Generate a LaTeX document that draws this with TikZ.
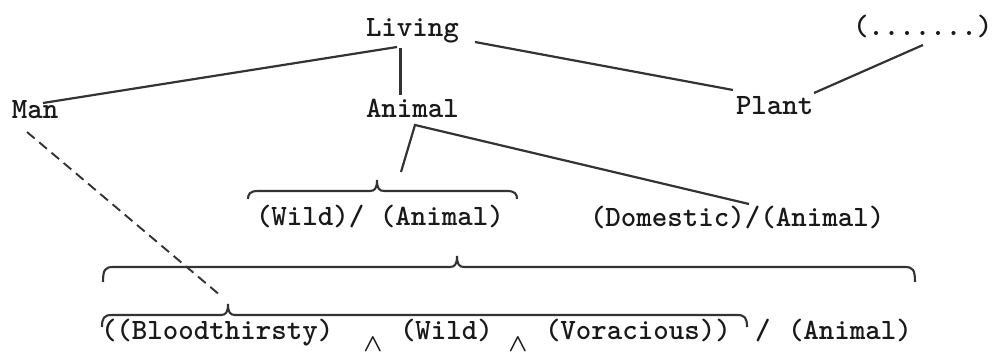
\documentclass[tikz,border=0pt]{standalone}
\usepackage{fontspec}
\newcommand{\ovbrace}[5]{% x1, x2, xtip, y, drop of the ends
  \draw[bracestyle] (#1,{#4+#5}) .. controls (#1,{#4+3}) and ({#1+2},#4) .. ({#1+10},#4)
    -- ({#3-7},#4) .. controls ({#3-2},#4) and (#3,{#4-3}) .. (#3,{#4-11})
    .. controls (#3,{#4-3}) and ({#3+2},#4) .. ({#3+7},#4)
    -- ({#2-10},#4) .. controls ({#2-2},#4) and (#2,{#4+3}) .. (#2,{#4+#5});}
\begin{document}
\begin{tikzpicture}[x=1pt,y=-1pt,
  lbl/.style={inner sep=0pt,outer sep=0pt,anchor=base west,text=black!90,
    font=\ttfamily\bfseries\fontsize{29.5}{32}\selectfont},
  wedgelbl/.style={inner sep=0pt,outer sep=0pt,anchor=center,text=black!90,
    font=\fontsize{24}{24}\selectfont\boldmath},
  conn/.style={line width=2.2pt,draw=black!80},
  dashconn/.style={conn,line width=1.9pt,dash pattern=on 10pt off 6pt},
  bracestyle/.style={line width=2.1pt,draw=black!80}]
\useasboundingbox (0,0) rectangle (996,355);

% nodes
\node[lbl] (living) at (366,37) {Living};
\node[lbl] (dots) at (853,36) {(.......)};
\node[lbl] (man) at (12,119) {Man};
\node[lbl] (animal) at (366,118) {Animal};
\node[lbl] (plant) at (736,115) {Plant};
\node[lbl] (wild) at (256,226) {(Wild)/ (Animal)};
\node[lbl] (domestic) at (590,227) {(Domestic)/(Animal)};
\node[lbl] (blood) at (101,339) {((Bloodthirsty)};
\node[wedgelbl] (and1) at (373,345) {$\wedge$};
\node[lbl] (wild2) at (400,339) {(Wild)};
\node[wedgelbl] (and2) at (518,345) {$\wedge$};
\node[lbl] (vorac) at (545,339) {(Voracious))};
\node[lbl] (slash) at (755,339) {/};
\node[lbl] (animal2) at (788,339) {(Animal)};

% braces
\ovbrace{248}{517}{377}{191}{8}
\ovbrace{103}{915}{457}{267}{15}
\ovbrace{102}{747}{228}{315}{12}

% connector end points
\coordinate (livL) at (397,47);
\coordinate (livB) at (400,48);
\coordinate (livR) at (475,42);
\coordinate (manT) at (43,103);
\coordinate (aniT) at (400,95);
\coordinate (aniB) at (415,125);
\coordinate (plL) at (733,90);
\coordinate (plR) at (814,93);
\coordinate (dotB) at (923,45);
\coordinate (wbTip) at (401,172);
\coordinate (domT) at (749,204);
\coordinate (manB) at (27,132);
\coordinate (bbTip) at (221,296);

% connectors
\draw[conn] (manT) -- (livL);
\draw[conn,line width=3pt] (livB) -- (aniT);
\draw[conn] (livR) -- (plL);
\draw[conn] (dotB) -- (plR);
\draw[conn] (wbTip) -- (aniB) -- (domT);
\draw[dashconn] (manB) -- (bbTip);
\end{tikzpicture}
\end{document}
